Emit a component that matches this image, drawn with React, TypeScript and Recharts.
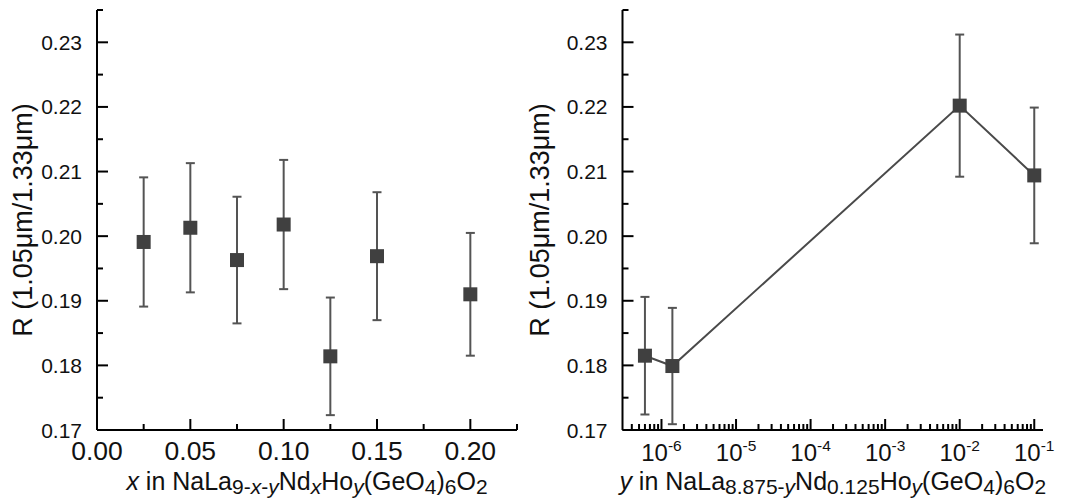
import React from 'react';
import { ScatterChart, Scatter, XAxis, YAxis, ErrorBar, Label } from 'recharts';

// ---------- data ----------
const xValues = [0.025, 0.05, 0.075, 0.1, 0.125, 0.15, 0.2];
const rLeft = [0.1991, 0.2013, 0.1963, 0.2018, 0.1814, 0.1969, 0.191];
const errLeft = [0.01, 0.01, 0.0098, 0.01, 0.0091, 0.0099, 0.0095];

const yValues = [6e-7, 1.4e-6, 1e-2, 1e-1];
const rRight = [0.1815, 0.1799, 0.2202, 0.2094];
const errRight = [0.0091, 0.009, 0.011, 0.0105];

const rTicks = [0.17, 0.175, 0.18, 0.185, 0.19, 0.195, 0.2, 0.205, 0.21, 0.215, 0.22, 0.225, 0.23, 0.235];
const xTicksLeft = [0, 0.025, 0.05, 0.075, 0.1, 0.125, 0.15, 0.175, 0.2, 0.225];
const logDecades = [1e-7, 1e-6, 1e-5, 1e-4, 1e-3, 1e-2];
const logMultipliers = [1, 2, 3, 4, 5, 6, 7, 8, 9];
const logTicks = [
  ...logDecades.flatMap((d) => logMultipliers.map((m) => m * d)).filter((v) => v >= 3.5e-7),
  1e-1,
];

const leftData = xValues.map((x, i) => ({ x, r: rLeft[i], err: errLeft[i] }));
const rightData = yValues.map((x, i) => ({ x, r: rRight[i], err: errRight[i] }));

// ---------- style ----------
const FONT = '"Liberation Sans", Arial, Helvetica, sans-serif';
const AXIS = '#000';
const MARKER = '#404040';
const ERR = '#545454';

const fs = (n: number) => ({ fontSize: `${n}px`, fontFamily: FONT });

const YTick = (props: any) => {
  const { x, y, payload } = props;
  const v = payload.value;
  const major = Math.abs(v * 100 - Math.round(v * 100)) < 1e-6;
  return (
    <g>
      <line x1={x} x2={x + (major ? 11 : 6)} y1={y} y2={y} stroke={AXIS} strokeWidth={2} />
      {major && (
        <text x={x - 15} y={y} dy="0.36em" textAnchor="end" style={fs(21)} fill="#111">
          {v.toFixed(2)}
        </text>
      )}
    </g>
  );
};

const XTickLin = (props: any) => {
  const { x, y, payload } = props;
  const v = payload.value;
  const major = Math.abs(v * 20 - Math.round(v * 20)) < 1e-6;
  return (
    <g>
      <line x1={x} x2={x} y1={y} y2={y - (major ? 11 : 6)} stroke={AXIS} strokeWidth={2} />
      {major && (
        <text x={x} y={y + 30} textAnchor="middle" style={fs(26.5)} fill="#111">
          {v.toFixed(2)}
        </text>
      )}
    </g>
  );
};

const XTickLog = (props: any) => {
  const { x, y, payload } = props;
  const v = payload.value;
  const lg = Math.log10(v);
  const major = Math.abs(lg - Math.round(lg)) < 1e-6;
  return (
    <g>
      <line x1={x} x2={x} y1={y} y2={y - (major ? 11 : 6)} stroke={AXIS} strokeWidth={2} />
      {major && (
        <text x={x} y={y + 31} textAnchor="middle" style={fs(24)} fill="#111">
          <tspan style={fs(24)}>10</tspan>
          <tspan dy={-10} style={fs(15.5)}>
            {String(Math.round(lg))}
          </tspan>
        </text>
      )}
    </g>
  );
};

type Seg = { t: string; sub?: boolean; it?: boolean };

const leftTitle: Seg[] = [
  { t: 'x', it: true },
  { t: ' in NaLa' },
  { t: '9-', sub: true },
  { t: 'x', sub: true, it: true },
  { t: '-', sub: true },
  { t: 'y', sub: true, it: true },
  { t: 'Nd' },
  { t: 'x', sub: true, it: true },
  { t: 'Ho' },
  { t: 'y', sub: true, it: true },
  { t: '(GeO' },
  { t: '4', sub: true },
  { t: ')' },
  { t: '6', sub: true },
  { t: 'O' },
  { t: '2', sub: true },
];

const rightTitle: Seg[] = [
  { t: 'y', it: true },
  { t: ' in NaLa' },
  { t: '8.875-', sub: true },
  { t: 'y', sub: true, it: true },
  { t: 'Nd' },
  { t: '0.125', sub: true },
  { t: 'Ho' },
  { t: 'y', sub: true, it: true },
  { t: '(GeO' },
  { t: '4', sub: true },
  { t: ')' },
  { t: '6', sub: true },
  { t: 'O' },
  { t: '2', sub: true },
];

const SUB_SHIFT = 4;

const RichTitle = ({ segs, cx, y }: { segs: Seg[]; cx: number; y: number }) => {
  let inSub = false;
  return (
    <text x={cx} y={y} textAnchor="middle" fill="#111" style={{ ...fs(25), whiteSpace: 'pre' }}>
      {segs.map((s, i) => {
        let dy = 0;
        if (s.sub && !inSub) dy = SUB_SHIFT;
        if (!s.sub && inSub) dy = -SUB_SHIFT;
        inSub = !!s.sub;
        return (
          <tspan key={i} dy={dy} style={{ ...fs(s.sub ? 21 : 25), fontStyle: s.it ? 'italic' : 'normal' }}>
            {s.t}
          </tspan>
        );
      })}
    </text>
  );
};

const yTitle = (cxOffset: number) => (props: any) => {
  const vb = props.viewBox || {};
  const cx = (vb.x || 0) + cxOffset;
  const cy = (vb.y || 0) + (vb.height || 0) / 2;
  return (
    <text
      x={cx}
      y={cy}
      dy="0.36em"
      textAnchor="middle"
      style={fs(27)}
      fill="#111"
      transform={`rotate(-90 ${cx} ${cy})`}
    >
      R (1.05μm/1.33μm)
    </text>
  );
};

const xTitle = (segs: Seg[]) => (props: any) => {
  const vb = props.viewBox || {};
  const cx = (vb.x || 0) + (vb.width || 0) / 2;
  const y = (vb.y || 0) + 60;
  return <RichTitle segs={segs} cx={cx} y={y} />;
};

const SquareMarker = (props: any) => {
  const { cx, cy } = props;
  if (cx == null || cy == null) return null;
  return <rect x={cx - 7} y={cy - 7} width={14} height={14} fill={MARKER} />;
};

const axisLineStyle = { stroke: AXIS, strokeWidth: 2 };

export default function App() {
  return (
    <div style={{ position: 'absolute', left: 0, top: 0, width: 1068, height: 502, background: '#fff' }}>
      <div style={{ position: 'absolute', left: 0, top: 0 }}>
        <ScatterChart width={520} height={502} margin={{ top: 10, right: 3, bottom: 0, left: 0 }}>
          <XAxis
            type="number"
            dataKey="x"
            domain={[0, 0.225]}
            ticks={xTicksLeft}
            interval={0}
            tickLine={false}
            tickSize={0}
            tickMargin={0}
            axisLine={axisLineStyle}
            tick={<XTickLin />}
            height={72}
            allowDataOverflow
          >
            <Label content={xTitle(leftTitle)} />
          </XAxis>
          <YAxis
            type="number"
            dataKey="r"
            domain={[0.17, 0.235]}
            ticks={rTicks}
            interval={0}
            tickLine={false}
            tickSize={0}
            tickMargin={0}
            axisLine={axisLineStyle}
            tick={<YTick />}
            width={97}
            allowDataOverflow
          >
            <Label content={yTitle(22)} />
          </YAxis>
          <Scatter data={leftData} shape={<SquareMarker />} isAnimationActive={false}>
            <ErrorBar dataKey="err" direction="y" width={4.5} stroke={ERR} strokeWidth={2} isAnimationActive={false} />
          </Scatter>
        </ScatterChart>
      </div>
      <div style={{ position: 'absolute', left: 520, top: 0 }}>
        <ScatterChart width={548} height={502} margin={{ top: 10, right: 25, bottom: 0, left: 0 }}>
          <XAxis
            type="number"
            dataKey="x"
            scale="log"
            domain={[3e-7, 0.131]}
            ticks={logTicks}
            interval={0}
            tickLine={false}
            tickSize={0}
            tickMargin={0}
            axisLine={axisLineStyle}
            tick={<XTickLog />}
            height={72}
            allowDataOverflow
          >
            <Label content={xTitle(rightTitle)} />
          </XAxis>
          <YAxis
            type="number"
            dataKey="r"
            domain={[0.17, 0.235]}
            ticks={rTicks}
            interval={0}
            tickLine={false}
            tickSize={0}
            tickMargin={0}
            axisLine={axisLineStyle}
            tick={<YTick />}
            width={102.5}
            allowDataOverflow
          >
            <Label content={yTitle(19)} />
          </YAxis>
          <Scatter
            data={rightData}
            shape={<SquareMarker />}
            line={{ stroke: '#4a4a4a', strokeWidth: 2 }}
            isAnimationActive={false}
          >
            <ErrorBar dataKey="err" direction="y" width={4.5} stroke={ERR} strokeWidth={2} isAnimationActive={false} />
          </Scatter>
        </ScatterChart>
      </div>
    </div>
  );
}
